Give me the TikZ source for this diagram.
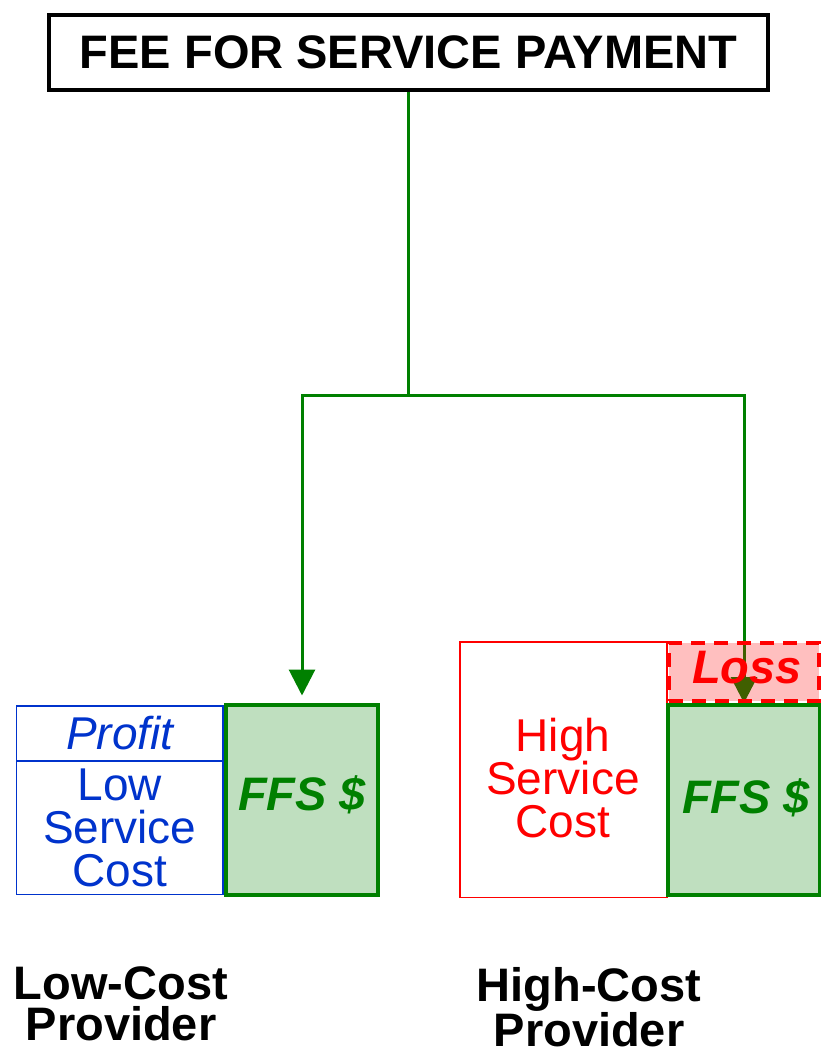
\documentclass[tikz,border=0pt]{standalone}
\usepackage{fontspec}
\setmainfont{Liberation Sans}
\usepackage{xcolor}
\definecolor{ffsgreen}{RGB}{0,128,0}
\definecolor{lowblue}{RGB}{0,51,204}
\definecolor{highred}{RGB}{255,0,0}
\usetikzlibrary{arrows.meta, positioning}
\tikzset{every picture/.style={font=\fontsize{46}{43}\selectfont}}

\begin{document}
\begin{tikzpicture}[
  x=1pt, y=-1pt,
  titlebox/.style={draw=black, line width=3.5pt, minimum width=719pt, minimum height=75pt, inner sep=0pt, font=\bfseries\fontsize{47}{47}\selectfont},
  costbox/.style={line width=1.5pt, minimum width=206.5pt, inner sep=0pt, outer sep=0pt, align=center},
  costtext/.style={align=center, inner sep=0pt},
  ffsbox/.style={draw=ffsgreen, fill=ffsgreen!25, line width=4pt, minimum width=152pt, minimum height=190pt, inner sep=0pt},
  ffstext/.style={text=ffsgreen, inner sep=0pt, font=\bfseries\itshape\fontsize{47}{47}\selectfont},
  feed/.style={draw=ffsgreen, line width=3pt},
  pay/.style={feed, -{Triangle[width=26pt,length=26pt]}},
  provider/.style={align=center, inner sep=0pt, font=\bfseries\fontsize{47}{41}\selectfont}
]
\useasboundingbox (0,0) rectangle (821,1047);

% payment source
\node[titlebox] (fee) at (408.5,52.5) {FEE FOR SERVICE PAYMENT};

% low-cost provider
\node[costbox, draw=lowblue, text=lowblue, minimum height=133.5pt] (lowcost) at (119.75,827.75) {Low\\Service\\Cost};
\node[costbox, draw=lowblue, text=lowblue, minimum height=55pt, font=\itshape\fontsize{46}{43}\selectfont, above=0pt of lowcost] (profit) {Profit};
\node[ffsbox] (ffsL) at (302,799.5) {};
\node[ffstext, anchor=base] (ffsLtxt) at (302,810) {FFS \$};

% high-cost provider
\node[costbox, draw=highred, minimum width=207pt, minimum height=255.5pt] (hicost) at (563.4,769.5) {};
\node[costtext, text=highred] (hitxt) at (563,778) {High\\Service\\Cost};
\node[ffsbox] (ffsR) at (744,800) {};
\node[ffstext, anchor=base] (ffsRtxt) at (746,813) {FFS \$};

% payment flow
\coordinate (split) at (408.5,395);
\draw[feed] (fee.south) -- (split);
\draw[pay, shorten >=7pt] (split) -| (ffsL.north);
\draw[pay] (split) -| (ffsR.north);

% loss on top of the payment
\node[draw=highred, line width=4pt, dash pattern=on 14pt off 9pt, fill=highred, fill opacity=0.25, text opacity=1, minimum width=150pt, minimum height=58pt, inner sep=0pt] (loss) at (744,672) {};
\node[text=highred, inner sep=0pt, anchor=base, font=\bfseries\itshape\fontsize{47}{47}\selectfont] (losstxt) at (747,683) {Loss};

% provider labels
\node[provider, anchor=north] (lowprov) at (121,966) {Low-Cost\\Provider};
\node[provider, anchor=north] (highprov) at (589,967) {High-Cost\\Provider};
\end{tikzpicture}
\end{document}
